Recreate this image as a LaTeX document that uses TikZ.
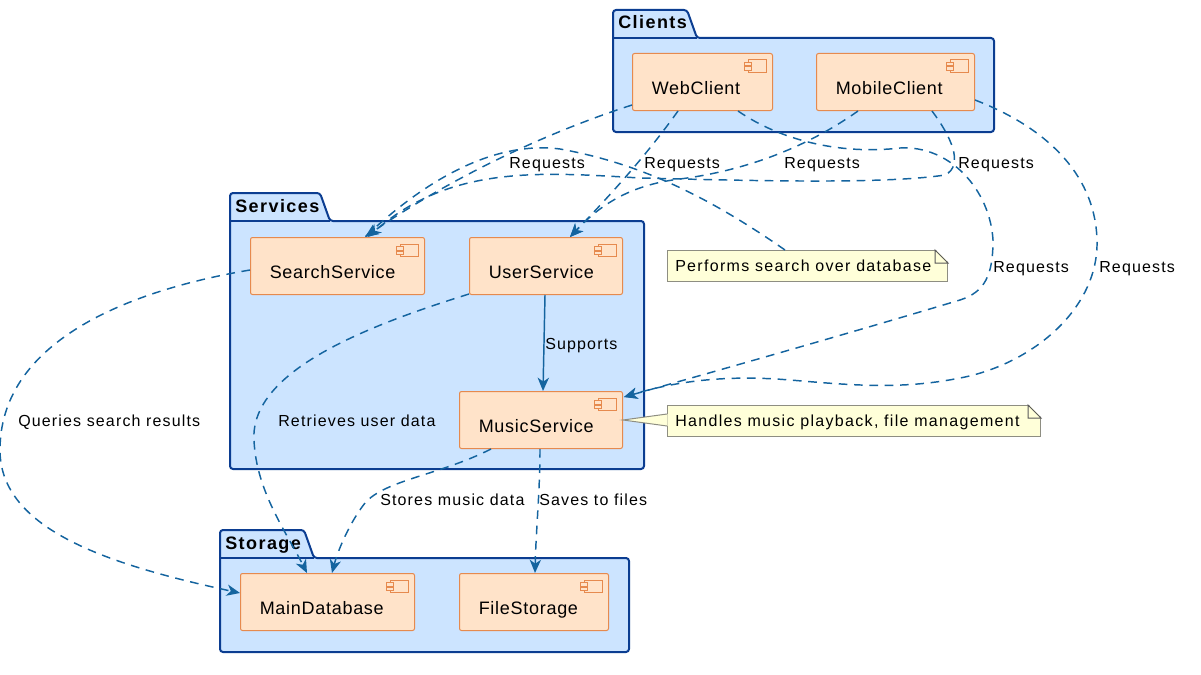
\documentclass[tikz,border=0pt]{standalone}
\usepackage{fontspec}
\setmainfont{Liberation Sans}[LetterSpace=5]
\usetikzlibrary{arrows.meta, calc}
\definecolor{pkgfill}{HTML}{CCE4FF}
\definecolor{pkgline}{HTML}{0B3D91}
\definecolor{compfill}{HTML}{FFE3C9}
\definecolor{compline}{HTML}{E68A4E}
\definecolor{notefill}{HTML}{FFFFD9}
\definecolor{noteline}{HTML}{8E8E82}
\definecolor{flowline}{HTML}{14649F}

\begin{document}
\begin{tikzpicture}[
      x=0.75pt, y=-0.75pt,
      pkg/.style={draw=pkgline, fill=pkgfill, line width=1.5pt, rounded corners=2.25pt},
      pkgtitle/.style={anchor=base west, inner sep=0pt, font=\fontsize{13.5}{16}\selectfont\bfseries\addfontfeatures{LetterSpace=8}},
      comp/.style={draw=compline, fill=compfill, line width=0.75pt, rounded corners=1.5pt, anchor=north west, minimum height=42.75pt, inner sep=0pt},
      compname/.style={anchor=base west, inner sep=0pt, font=\fontsize{13.5}{16}\selectfont\addfontfeatures{LetterSpace=4}},
      icon/.style={draw=compline, fill=compfill, line width=0.75pt},
      flow/.style={draw=flowline, line width=1.1pt, -{Stealth[length=10pt, width=8.5pt, inset=3pt]}},
      dflow/.style={flow, dash pattern=on 6.5pt off 5pt},
      notebox/.style={draw=noteline, fill=notefill, line width=0.75pt, anchor=north west, minimum height=23.25pt, inner sep=0pt},
      lab/.style={anchor=base west, inner sep=0pt, font=\fontsize{12}{14}\selectfont\addfontfeatures{LetterSpace=7.2}},
      notetext/.style={anchor=base west, inner sep=0pt, font=\fontsize{12}{14}\selectfont\addfontfeatures{LetterSpace=8.2}},
    ]
    \useasboundingbox (0,0) rectangle (1201,674);
    % packages: name/body left/body top/body right/body bottom/tab right
    \foreach \pkgname/\xa/\ya/\xb/\yb/\tabx in {%
        Clients/613/38/994/132/697, Services/230/221/644/469/330,
        Storage/220/558/629/652/314} {
      \draw[pkg] (\xa,\ya) -- (\xa,\ya-28) -- (\tabx-10,\ya-28) -- (\tabx,\ya)
        -- (\xb,\ya) -- (\xb,\yb) -- (\xa,\yb) -- cycle;
      \draw[pkgline, line width=1.5pt] (\xa,\ya) -- (\tabx,\ya);
      \node[pkgtitle] (\pkgname-title) at (\xa+5,\ya-9) {\pkgname};
    }
    % components: name/left/top/width
    \foreach \cname/\xa/\ya/\w in {%
        WebClient/632/53/140, MobileClient/816/53/158,
        SearchService/250/237/174, UserService/469/237/153,
        MusicService/459/391/163,
        MainDatabase/240/573/174, FileStorage/459/573/149} {
      \node[comp, minimum width=\w*0.75pt] (\cname) at (\xa,\ya) {};
      \node[compname] (\cname-name) at ($(\cname.north west)+(19.5,41)$) {\cname};
      \draw[icon] ($(\cname.north east)+(-25,7)$) rectangle ($(\cname.north east)+(-6.5,19.5)$);
      \draw[icon] ($(\cname.north east)+(-29,9.5)$) rectangle ($(\cname.north east)+(-22,13)$);
      \draw[icon] ($(\cname.north east)+(-29,14)$) rectangle ($(\cname.north east)+(-22,17.5)$);
    }
    % notes
    \node[notebox, minimum width=210pt] (searchnote) at (667,250) {};
    \node[notebox, minimum width=279.75pt] (musicnote) at (667,405) {};
    \foreach \nname in {searchnote, musicnote} {
      \fill[white] ($(\nname.north east)+(-13,-1)$) -- ($(\nname.north east)+(1,-1)$)
        -- ($(\nname.north east)+(1,13)$) -- cycle;
      \draw[black!65, line width=0.75pt, fill=notefill] ($(\nname.north east)+(-13,0)$)
        -- ($(\nname.north east)+(0,13)$) -- ($(\nname.north east)+(-13,13)$) -- cycle;
    }
    \node[notetext] (searchnote-text) at ($(searchnote.north west)+(8,21)$) {Performs search over database};
    \node[notetext] (musicnote-text) at ($(musicnote.north west)+(8,21)$) {Handles music playback, file management};
    % note pointer
    \fill[notefill] ($(musicnote.north west)+(0.5,9)$) -- (MusicService.east |- 0,420)
      -- ($(musicnote.north west)+(0.5,21)$) -- cycle;
    \draw[noteline, line width=0.75pt] ($(musicnote.north west)+(0,9)$) -- (MusicService.east |- 0,420)
      -- ($(musicnote.north west)+(0,21)$);
    % note link
    \draw[draw=flowline, line width=1.1pt, dash pattern=on 6.5pt off 5pt] ($(searchnote.north west)+(118,0)$)
      .. controls (720,205) and (650,165) .. (560,149)
      .. controls (490,140) and (420,185) .. ($(SearchService.north west)+(115,0)$);
    % requests from the clients
    \draw[dflow] ($(WebClient.south west)+(0,-6)$)
      .. controls (570,125) and (470,165) .. ($(SearchService.north west)+(115,0)$);
    \draw[dflow] ($(WebClient.south west)+(46,0)$)
      .. controls (650,150) and (620,185) .. ($(UserService.north west)+(101,0)$);
    \draw[dflow] ($(WebClient.south west)+(106,0)$)
      .. controls (780,140) and (840,155) .. (900,148)
      .. controls (950,145) and (990,190) .. (993,240)
      .. controls (993,275) and (985,292) .. (960,300)
      .. controls (850,333) and (720,370) .. ($(MusicService.north east)+(1,6)$);
    \draw[dflow] ($(MobileClient.south west)+(42,0)$)
      .. controls (810,145) and (750,170) .. (680,179)
      .. controls (630,185) and (600,205) .. ($(UserService.north west)+(101,0)$);
    \draw[dflow] ($(MobileClient.south west)+(116,0)$)
      .. controls (950,135) and (965,165) .. (945,175)
      .. controls (880,185) and (730,180) .. (640,178)
      .. controls (540,172) and (450,165) .. ($(SearchService.north west)+(118,0)$);
    \draw[dflow] ($(MobileClient.south east)+(0,-11)$)
      .. controls (1040,125) and (1095,170) .. (1097,240)
      .. controls (1099,310) and (1030,365) .. (960,378)
      .. controls (900,390) and (850,385) .. (790,380)
      .. controls (730,375) and (680,380) .. ($(MusicService.north east)+(1,6)$);
    % services and storage
    \draw[flow] ($(UserService.south west)+(76,0)$) -- ($(MusicService.north west)+(84,0)$);
    \draw[dflow] ($(SearchService.west)+(0,4)$)
      .. controls (120,292) and (0,345) .. (0,450)
      .. controls (0,530) and (110,565) .. ($(MainDatabase.north west)+(0,20)$);
    \draw[dflow] ($(UserService.south west)+(0,-1)$)
      .. controls (370,325) and (250,370) .. (254,440)
      .. controls (256,490) and (285,530) .. ($(MainDatabase.north west)+(67,0)$);
    \draw[dflow] ($(MusicService.south west)+(32,0)$)
      .. controls (440,475) and (385,480) .. (365,503)
      .. controls (350,522) and (338,550) .. ($(MainDatabase.north west)+(92,0)$);
    \draw[dflow] ($(MusicService.south west)+(81,0)$)
      .. controls (540,490) and (536,530) .. ($(FileStorage.north west)+(76,0)$);
    % connector labels
    \foreach \x/\y [count=\ri from 1] in {509/168, 644/168, 784/168, 958/168, 993/272, 1099/272}
      \node[lab] (requests\ri) at (\x,\y) {Requests};
    \node[lab] (supports) at (545,349) {Supports};
    \node[lab] (queries) at (18,426) {Queries search results};
    \node[lab] (retrieves) at (278,426) {Retrieves user data};
    \node[lab] (stores) at (380,505) {Stores music data};
    \node[lab] (saves) at (539,505) {Saves to files};
  \end{tikzpicture}
\end{document}
